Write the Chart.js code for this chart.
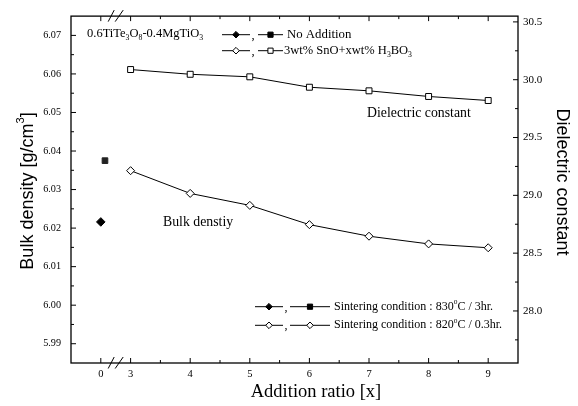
<!DOCTYPE html>
<html lang="en">
<head>
  <meta charset="UTF-8" />
  <title>Bulk density and dielectric constant vs addition ratio</title>
  <script src="https://cdn.jsdelivr.net/npm/chart.js"></script>
  <style>
    body { margin: 0; background: #fff; }
  </style>
</head>
<body>
  <canvas id="myChart" width="578" height="406"></canvas>

  <script>
    // addition ratio x for the SnO + H3BO3 samples
    const additionRatio = [3, 4, 5, 6, 7, 8, 9];
    const densityDoped = [6.0349, 6.0290, 6.0259, 6.0209, 6.0179, 6.0159, 6.0149];
    const dielectricDoped = [30.088, 30.047, 30.025, 29.935, 29.904, 29.855, 29.820];
    // no addition (x = 0)
    const densityUndoped = 6.0216;
    const dielectricUndoped = 29.30;

    const xTickValues = [0, 3, 4, 5, 6, 7, 8, 9];
    const densityTicks = [5.99, 6.00, 6.01, 6.02, 6.03, 6.04, 6.05, 6.06, 6.07];
    const dielectricTicks = [28.0, 28.5, 29.0, 29.5, 30.0, 30.5];

    // the x axis is broken between 0 and 3, 0 is drawn half a unit left of 3
    function xPos(v) { return v < 3 ? 2.5 + v : v; }

    const SERIF = '"Liberation Serif", "Times New Roman", serif';
    const SANS = '"Liberation Sans", Arial, sans-serif';

    function drawRich(ctx, parts, x, y, size, family, align) {
      const widths = parts.map(([t, k]) => {
        ctx.font = (k ? size * 0.62 : size) + 'px ' + family;
        return ctx.measureText(t).width;
      });
      const total = widths.reduce((a, b) => a + b, 0);
      let cx = align === 'center' ? x - total / 2 : x;
      parts.forEach(([t, k], i) => {
        ctx.font = (k ? size * 0.62 : size) + 'px ' + family;
        const dy = k === 'sub' ? size * 0.32 : k === 'sup' ? -size * 0.38 : 0;
        ctx.fillText(t, cx, y + dy);
        cx += widths[i];
      });
    }

    function marker(ctx, type, x, y, r, filled) {
      ctx.beginPath();
      if (type === 'diamond') {
        ctx.moveTo(x, y - r); ctx.lineTo(x + r, y); ctx.lineTo(x, y + r); ctx.lineTo(x - r, y);
        ctx.closePath();
      } else {
        ctx.rect(x - r, y - r, 2 * r, 2 * r);
      }
      ctx.fillStyle = filled ? '#000' : '#fff';
      ctx.fill();
      ctx.stroke();
    }

    function legendRow(ctx, y, x0, x1, m1, x2, x3, m2, filled, size) {
      ctx.beginPath();
      ctx.moveTo(x0, y); ctx.lineTo(x1, y);
      ctx.moveTo(x2, y); ctx.lineTo(x3, y);
      ctx.stroke();
      marker(ctx, 'diamond', (x0 + x1) / 2, y, m1 === 'diamond' ? 3.3 : 2.6, filled);
      marker(ctx, m2, (x2 + x3) / 2, y, m2 === 'diamond' ? 3.3 : 2.6, filled);
      ctx.fillStyle = '#000';
      ctx.font = size + 'px ' + SERIF;
      ctx.fillText(',', x1 + 1.5, y + 1);
    }

    const decor = {
      id: 'decor',
      afterDraw(chart) {
        const ctx = chart.ctx;
        const a = chart.chartArea;
        const sx = chart.scales.x, yl = chart.scales.yL, yr = chart.scales.yR;
        ctx.save();
        ctx.strokeStyle = '#000';
        ctx.fillStyle = '#000';
        ctx.lineWidth = 1.3;
        ctx.strokeRect(a.left, a.top, a.right - a.left, a.bottom - a.top);

        // inward ticks
        ctx.lineWidth = 1;
        ctx.beginPath();
        const xMaj = xTickValues.map(xPos);
        const xMin = additionRatio.map(v => v + 0.5).filter(v => v < sx.max);
        xMaj.forEach(v => {
          const p = sx.getPixelForValue(v);
          ctx.moveTo(p, a.bottom); ctx.lineTo(p, a.bottom - 5);
          ctx.moveTo(p, a.top); ctx.lineTo(p, a.top + 5);
        });
        xMin.forEach(v => {
          const p = sx.getPixelForValue(v);
          ctx.moveTo(p, a.bottom); ctx.lineTo(p, a.bottom - 3);
          ctx.moveTo(p, a.top); ctx.lineTo(p, a.top + 3);
        });
        densityTicks.forEach(v => {
          const p = yl.getPixelForValue(v);
          ctx.moveTo(a.left, p); ctx.lineTo(a.left + 5, p);
          const q = yl.getPixelForValue(v + 0.005);
          if (v + 0.005 < yl.max - 1e-9) { ctx.moveTo(a.left, q); ctx.lineTo(a.left + 3, q); }
        });
        dielectricTicks.forEach(v => {
          const p = yr.getPixelForValue(v);
          ctx.moveTo(a.right, p); ctx.lineTo(a.right - 5, p);
          const q = yr.getPixelForValue(v - 0.25);
          ctx.moveTo(a.right, q); ctx.lineTo(a.right - 3, q);
        });
        ctx.stroke();

        // axis break marks
        const xb = sx.getPixelForValue(2.75);
        ctx.beginPath();
        [a.bottom, a.top].forEach(yy => {
          ctx.moveTo(xb - 7.5, yy + 5.5); ctx.lineTo(xb - 1.5, yy - 6);
          ctx.moveTo(xb - 0.5, yy + 5.5); ctx.lineTo(xb + 7.5, yy - 6);
        });
        ctx.stroke();

        // axis titles
        ctx.textBaseline = 'middle';
        ctx.textAlign = 'left';
        ctx.save();
        ctx.translate(28, 191);
        ctx.rotate(-Math.PI / 2);
        drawRich(ctx, [['Bulk density [g/cm', ''], ['3', 'sup'], [']', '']], 0, 0, 18, SANS, 'center');
        ctx.restore();
        ctx.save();
        ctx.translate(562, 182);
        ctx.rotate(Math.PI / 2);
        drawRich(ctx, [['Dielectric constant', '']], 0, 0, 18, SANS, 'center');
        ctx.restore();
        drawRich(ctx, [['Addition ratio [x]', '']], 316, 392, 18.5, SERIF, 'center');

        // annotations
        drawRich(ctx, [['0.6TiTe', ''], ['3', 'sub'], ['O', ''], ['8', 'sub'], ['-0.4MgTiO', ''], ['3', 'sub']], 87, 34, 12.5, SERIF);
        drawRich(ctx, [['Dielectric constant', '']], 367, 113, 13.8, SERIF);
        drawRich(ctx, [['Bulk denstiy', '']], 163, 222, 13.8, SERIF);

        // top legend
        ctx.lineWidth = 1;
        legendRow(ctx, 34.7, 222, 250, 'diamond', 258, 283, 'square', true, 12.5);
        legendRow(ctx, 50.7, 222, 250, 'diamond', 258, 283, 'square', false, 12.5);
        drawRich(ctx, [['No Addition', '']], 287, 34.7, 12.8, SERIF);
        drawRich(ctx, [['3wt% SnO+xwt% H', ''], ['3', 'sub'], ['BO', ''], ['3', 'sub']], 284, 50.7, 12.5, SERIF);

        // bottom legend
        legendRow(ctx, 306.7, 255, 283, 'diamond', 290, 330, 'square', true, 12);
        legendRow(ctx, 325.3, 255, 283, 'diamond', 290, 330, 'diamond', false, 12);
        drawRich(ctx, [['Sintering condition : 830', ''], ['o', 'sup'], ['C / 3hr.', '']], 334, 306.7, 12, SERIF);
        drawRich(ctx, [['Sintering condition : 820', ''], ['o', 'sup'], ['C / 0.3hr.', '']], 334, 325.3, 12, SERIF);
        ctx.restore();
      }
    };

    const ctx = document.getElementById('myChart').getContext('2d');
    new Chart(ctx, {
      type: 'scatter',
      data: {
        datasets: [
          {
            label: 'Dielectric constant (3wt% SnO + xwt% H3BO3)',
            data: additionRatio.map((x, i) => ({ x: x, y: dielectricDoped[i] })),
            yAxisID: 'yR',
            showLine: true,
            borderColor: '#000',
            borderWidth: 1,
            pointStyle: 'rect',
            pointRadius: 4.2,
            pointBackgroundColor: '#fff',
            pointBorderColor: '#000',
            pointBorderWidth: 1
          },
          {
            label: 'Bulk density (3wt% SnO + xwt% H3BO3)',
            data: additionRatio.map((x, i) => ({ x: x, y: densityDoped[i] })),
            yAxisID: 'yL',
            showLine: true,
            borderColor: '#000',
            borderWidth: 1,
            pointStyle: 'rectRot',
            pointRadius: 4,
            pointBackgroundColor: '#fff',
            pointBorderColor: '#000',
            pointBorderWidth: 1
          },
          {
            label: 'Bulk density (no addition)',
            data: [{ x: xPos(0), y: densityUndoped }],
            yAxisID: 'yL',
            pointStyle: 'rectRot',
            pointRadius: 4.3,
            pointBackgroundColor: '#000',
            pointBorderColor: '#000'
          },
          {
            label: 'Dielectric constant (no addition)',
            // nudged a little right so it does not sit on the diamond
            data: [{ x: xPos(0) + 0.07, y: dielectricUndoped }],
            yAxisID: 'yR',
            pointStyle: 'rect',
            pointRadius: 4,
            pointBackgroundColor: '#222',
            pointBorderColor: '#222'
          }
        ]
      },
      options: {
        responsive: false,
        animation: false,
        layout: { padding: { top: 15, left: 0, right: 0, bottom: 0 } },
        plugins: { legend: { display: false }, tooltip: { enabled: false } },
        scales: {
          x: {
            type: 'linear',
            min: 2,
            max: 9.5,
            grid: { display: false, drawTicks: false },
            border: { display: false },
            afterBuildTicks: s => { s.ticks = xTickValues.map(v => ({ value: xPos(v) })); },
            afterFit: s => { s.height = 43; },
            ticks: {
              autoSkip: false,
              maxRotation: 0,
              padding: 5,
              color: '#000',
              font: { family: SERIF, size: 10.5 },
              callback: (v, i) => String(xTickValues[i])
            }
          },
          yL: {
            position: 'left',
            min: 5.985,
            max: 6.075,
            grid: { display: false, drawTicks: false },
            border: { display: false },
            afterBuildTicks: s => { s.ticks = densityTicks.map(v => ({ value: v })); },
            afterFit: s => { s.width = 71; },
            ticks: {
              padding: 10,
              color: '#000',
              font: { family: SERIF, size: 10.2 },
              callback: v => v.toFixed(2)
            }
          },
          yR: {
            position: 'right',
            min: 27.55,
            max: 30.55,
            grid: { display: false, drawTicks: false },
            border: { display: false },
            afterBuildTicks: s => { s.ticks = dielectricTicks.map(v => ({ value: v })); },
            afterFit: s => { s.width = 60; },
            ticks: {
              padding: 5,
              color: '#000',
              font: { family: SERIF, size: 11 },
              callback: v => v.toFixed(1)
            }
          }
        }
      },
      plugins: [decor]
    });
  </script>
</body>
</html>
